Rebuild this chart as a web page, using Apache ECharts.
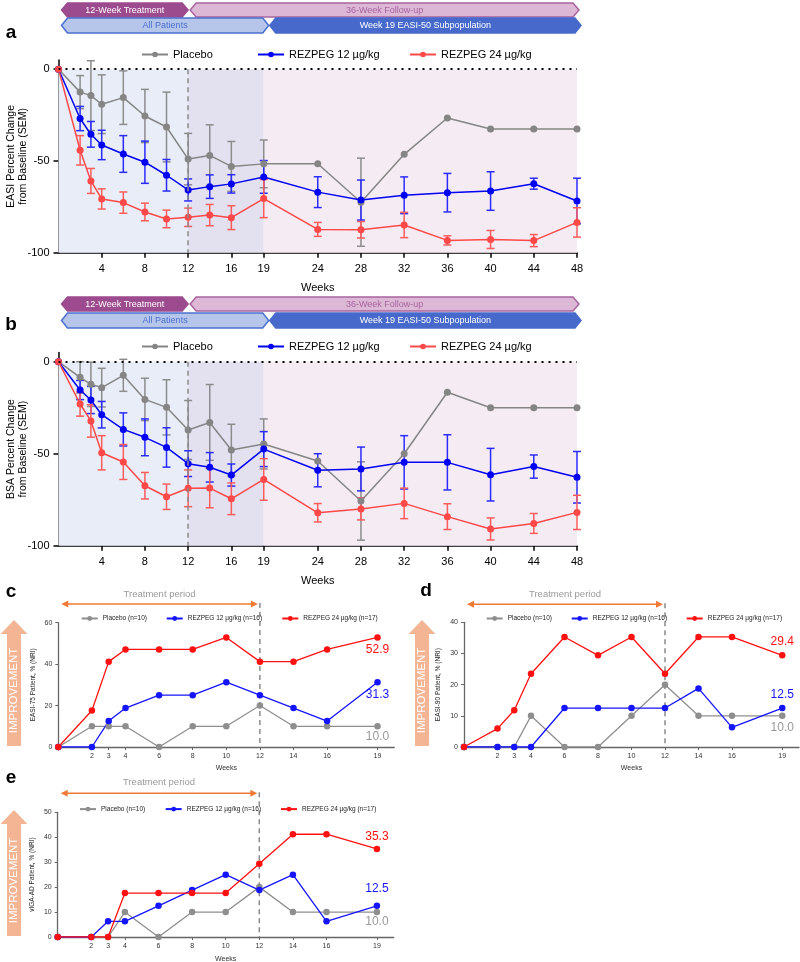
<!DOCTYPE html>
<html><head><meta charset="utf-8">
<script src="https://cdn.jsdelivr.net/npm/echarts@6/dist/echarts.min.js"></script>
<style>html,body{margin:0;padding:0;background:#fff}#c{width:800px;height:962px}</style>
</head><body><div id="c"></div>
<script>
const FONT = "'Liberation Sans', Arial, Helvetica, sans-serif";

// ---------- data ----------
const weeksAB = [0,2,3,4,6,8,10,12,14,16,19,24,28,32,36,40,44,48];
const tickWeeksAB = [4,8,12,16,19,24,28,32,36,40,44,48];
const yTicksAB = [-100,-50,0];
const periodBounds = [0,12,19,48];

const easiPlacebo    = [0,-12.5,-14.4,-19.1,-15.5,-25.5,-31.5,-49,-47,-53,-51.6,-51.5,-72.5,-46.4,-26.6,-32.6,-32.6,-32.6];
const easiPlaceboSem = [0,9,19,16,14.6,14.5,19,14,16.7,13.6,13,0,24,0,0,0,0,0];
const easi12         = [0,-26.9,-35.5,-41.3,-46.2,-50.7,-57.8,-65.8,-64,-62.5,-58.7,-67,-71.3,-68.7,-67.3,-66.4,-62.4,-71.8];
const easi12Sem      = [0,6.6,7,8,10,11.5,8.6,6,6.4,5,8.9,8.4,10.9,10,10.5,10.5,3,12.4];
const easi24         = [0,-44.2,-60.9,-70.7,-72.7,-77.8,-81.6,-80.7,-79.5,-80.9,-70.5,-87.3,-87.5,-84.9,-93.3,-92.8,-93.4,-83.5];
const easi24Sem      = [0,8,6.8,5.5,5.8,4.8,4.8,5,5.8,6.5,10.4,3.8,4.5,6.9,2.5,4.9,3.3,8];

const bsaPlacebo    = [0,-8.5,-12.3,-14.1,-7.4,-20.5,-24.8,-37.1,-33,-48,-44.7,-54,-75.7,-50,-16.6,-25,-25,-25];
const bsaPlaceboSem = [0,8.5,12,10.5,8.7,11.5,15,16,20.6,14,13.6,0,21.3,0,0,0,0,0];
const bsa12         = [0,-15.4,-20.8,-28.8,-36.8,-41.1,-46.6,-55.4,-57.4,-61.6,-47.5,-59,-58.3,-54.7,-54.7,-61.4,-57,-62.8];
const bsa12Sem      = [0,5.2,7.4,7.2,9,10,10.7,7,8,6,9.5,9,11.9,14.5,15,14.3,6.3,14];
const bsa24         = [0,-23,-32.2,-49.5,-54.5,-67.4,-73.4,-68.8,-68.7,-74.5,-64,-82.1,-80,-77,-84.2,-90.9,-87.9,-81.9];
const bsa24Sem      = [0,6.6,8.8,9.3,9.5,7.2,6.9,10,10.7,8.6,11.3,5,6,8.3,7,6,5.4,9.3];

const weeksCDE = [0,2,3,4,6,8,10,12,14,16,19];
const tickWeeksCDE = [2,3,4,6,8,10,12,14,16,19];

const easi75Placebo = [0,10,10,10,0,10,10,20,10,10,10];
const easi75_12     = [0,0,12.5,18.8,25,25,31.3,25,18.8,12.5,31.3];
const easi75_24     = [0,17.6,41.2,47.1,47.1,47.1,52.9,41.2,41.2,47.1,52.9];

const easi90Placebo = [0,0,0,10,0,0,10,20,10,10,10];
const easi90_12     = [0,0,0,0,12.5,12.5,12.5,12.5,18.8,6.3,12.5];
const easi90_24     = [0,5.9,11.8,23.5,35.3,29.4,35.3,23.5,35.3,35.3,29.4];

const vigaPlacebo = [0,0,0,10,0,10,10,20,10,10,10];
const viga12      = [0,0,6.3,6.3,12.5,18.8,25,18.8,25,6.3,12.5];
const viga24      = [0,0,0,17.6,17.6,17.6,17.6,29.4,41.2,41.2,35.3];

const namesAB  = ['Placebo','REZPEG 12 µg/kg','REZPEG 24 µg/kg'];
const namesCDE = ['Placebo (n=10)','REZPEG 12 µg/kg (n=16)','REZPEG 24 µg/kg (n=17)'];

// ---------- styling ----------
const colAB  = ['#858585','#0000f2','#ff4848'];
const errAB  = ['#8c8c8c','#2b2bff','#ff5c5c'];
const colCDE = ['#8e8e8e','#1414ff','#ff1010'];

const chart = echarts.init(document.getElementById('c'), null, {renderer:'canvas'});

function errSeries(name, gi, weeks, means, sems, color) {
  return {
    type:'custom', name, xAxisIndex:gi, yAxisIndex:gi, silent:true, z:3,
    data: weeks.map((w,i)=>[w, means[i], sems[i]]),
    renderItem(params, api){
      const e = api.value(2);
      if(!e) return null;
      const x = api.value(0), y = api.value(1);
      const t = api.coord([x, y+e]), b = api.coord([x, y-e]);
      const hw = 4, st = {stroke:color, lineWidth:1.5, fill:null};
      return {type:'group', children:[
        {type:'line', shape:{x1:t[0],y1:t[1],x2:b[0],y2:b[1]}, style:st},
        {type:'line', shape:{x1:t[0]-hw,y1:t[1],x2:t[0]+hw,y2:t[1]}, style:st},
        {type:'line', shape:{x1:b[0]-hw,y1:b[1],x2:b[0]+hw,y2:b[1]}, style:st}
      ]};
    }
  };
}
function lineSeries(name, gi, weeks, vals, color, size, extra) {
  return Object.assign({
    type:'line', name, xAxisIndex:gi, yAxisIndex:gi,
    data: weeks.map((w,i)=>[w, vals[i]]),
    symbol:'circle', symbolSize:size, showSymbol:true,
    itemStyle:{color}, lineStyle:{color, width:1.5}, z:4
  }, extra||{});
}
function shade(gi) {
  const cols = ['#e9edf7','#e3e0f0','#f5ebf3'];
  return {
    markArea:{silent:true, data: cols.map((c,i)=>[
      {xAxis:periodBounds[i], yAxis:0, itemStyle:{color:c}},
      {xAxis:periodBounds[i+1], yAxis:-100}])},
    markLine:{silent:true, symbol:['none','none'], label:{show:false}, animation:false, data:[
      {yAxis:0, lineStyle:{type:[2,5], color:'#000', width:2}},
      [{coord:[periodBounds[1],0], lineStyle:{type:[5,4], color:'#8a8a8a', width:1.5}},{coord:[periodBounds[1],-100]}]
    ]}
  };
}
function cdeSeries(name, gi, vals, color, lab) {
  const n = weeksCDE.length;
  return {
    type:'line', name, xAxisIndex:gi, yAxisIndex:gi, symbol:'circle', symbolSize:6.5,
    itemStyle:{color}, lineStyle:{color, width:1.3}, z:4,
    data: weeksCDE.map((w,i)=> i===n-1 ? {value:[w, vals[i]], label:{show:true, position:lab.pos, distance:lab.dist,
        color:lab.color||color, fontSize:12, fontFamily:FONT, formatter:p=>p.value[1].toFixed(1)}} : [w, vals[i]])
  };
}

// axes
function xAB(gi){ return {type:'value', gridIndex:gi, min:0, max:48, name:'Weeks', nameLocation:'middle', nameGap:30,
  nameTextStyle:{fontSize:11,color:'#000',fontFamily:FONT},
  axisLine:{onZero:false, lineStyle:{color:'#000', width:1.5}},
  axisTick:{customValues:tickWeeksAB, length:5, lineStyle:{color:'#000', width:1.5}},
  axisLabel:{customValues:tickWeeksAB, fontSize:11, color:'#000', margin:11, fontFamily:FONT},
  splitLine:{show:false}}; }
function yAB(gi, name){ return {type:'value', gridIndex:gi, min:-100, max:5, name, nameLocation:'middle', nameGap:29, nameRotate:90,
  nameMoveOverlap:false,
  nameTextStyle:{fontSize:10.5, lineHeight:12, color:'#000', fontFamily:FONT},
  axisLine:{onZero:false, lineStyle:{color:'#000', width:1.5}},
  axisTick:{customValues:yTicksAB, length:5, lineStyle:{color:'#000', width:1.5}},
  axisLabel:{customValues:yTicksAB, fontSize:11, color:'#000', margin:9, fontFamily:FONT},
  splitLine:{show:false}}; }
function xCDE(gi, gap){ return {type:'value', gridIndex:gi, min:0, max:20, name:'Weeks', nameLocation:'middle', nameGap:gap,
  nameTextStyle:{fontSize:7,color:'#333',fontFamily:FONT},
  axisLine:{onZero:false, lineStyle:{color:'#666', width:1.3}},
  axisTick:{customValues:tickWeeksCDE, length:3, lineStyle:{color:'#666', width:1}},
  axisLabel:{customValues:tickWeeksCDE, fontSize:7, color:'#333', margin:6, fontFamily:FONT},
  splitLine:{show:false}}; }
function yCDE(gi, max, interval, name){ return {type:'value', gridIndex:gi, min:0, max, interval, name, nameLocation:'middle', nameGap:22, nameRotate:90,
  nameTextStyle:{fontSize:6.5,color:'#222',fontFamily:FONT},
  axisLine:{onZero:false, lineStyle:{color:'#666', width:1.3}},
  axisTick:{length:3, lineStyle:{color:'#666', width:1}},
  axisLabel:{fontSize:7, color:'#333', margin:6, fontFamily:FONT},
  splitLine:{show:false}}; }

const legCommonAB = {padding:0, itemWidth:26, itemHeight:7, selectedMode:false, textStyle:{fontSize:11,color:'#000',fontFamily:FONT}};
const legCommonC = {padding:0, itemWidth:16, itemHeight:6, selectedMode:false, textStyle:{fontSize:6.5,color:'#222',fontFamily:FONT}};
function legs(names, lefts, top, common){ return names.map((n,i)=>Object.assign({data:[n], left:lefts[i], top}, common)); }
const G = (o)=>Object.assign({containLabel:false, outerBoundsMode:'none'}, o);

const option = {
  animation:false,
  grid:[
    G({left:58.5, top:60, width:518.5, height:192.7}),
    G({left:58.5, top:352.5, width:518.5, height:193.2}),
    G({left:58.3, top:622.7, width:336, height:124.3}),
    G({left:464, top:622.3, width:335, height:124.7}),
    G({left:57.7, top:812.3, width:336, height:124.7})
  ],
  xAxis:[xAB(0), xAB(1), xCDE(2,17.5), xCDE(3,17.5), xCDE(4,18.5)],
  yAxis:[
    yAB(0,'EASI Percent Change\nfrom Baseline (SEM)'),
    yAB(1,'BSA Percent Change\nfrom Baseline (SEM)'),
    yCDE(2,60,20,'EASI-75 Patient, % (NRI)'),
    yCDE(3,40,10,'EASI-90 Patient, % (NRI)'),
    yCDE(4,50,10,'vIGA-AD Patient, % (NRI)')
  ],
  legend:[].concat(
    legs(namesAB,[141,257,409],49,legCommonAB),
    legs(namesAB,[141,257,409],341,legCommonAB),
    legs(namesCDE,[80.7,165.7,281.3],615,legCommonC),
    legs(namesCDE,[485.7,570.7,685.7],615,legCommonC),
    legs(namesCDE,[79,164.7,280],805.6,legCommonC)
  ),
  series:[
    lineSeries(namesAB[0],0,weeksAB,easiPlacebo,colAB[0],7,shade(0)),
    errSeries('errA0',0,weeksAB,easiPlacebo,easiPlaceboSem,errAB[0]),
    lineSeries(namesAB[1],0,weeksAB,easi12,colAB[1],7),
    errSeries('errA1',0,weeksAB,easi12,easi12Sem,errAB[1]),
    lineSeries(namesAB[2],0,weeksAB,easi24,colAB[2],7),
    errSeries('errA2',0,weeksAB,easi24,easi24Sem,errAB[2]),

    lineSeries(namesAB[0],1,weeksAB,bsaPlacebo,colAB[0],7,shade(1)),
    errSeries('errB0',1,weeksAB,bsaPlacebo,bsaPlaceboSem,errAB[0]),
    lineSeries(namesAB[1],1,weeksAB,bsa12,colAB[1],7),
    errSeries('errB1',1,weeksAB,bsa12,bsa12Sem,errAB[1]),
    lineSeries(namesAB[2],1,weeksAB,bsa24,colAB[2],7),
    errSeries('errB2',1,weeksAB,bsa24,bsa24Sem,errAB[2]),

    cdeSeries(namesCDE[0],2,easi75Placebo,colCDE[0],{pos:'bottom',dist:1,color:'#999'}),
    cdeSeries(namesCDE[1],2,easi75_12,colCDE[1],{pos:'bottom',dist:3}),
    cdeSeries(namesCDE[2],2,easi75_24,colCDE[2],{pos:'bottom',dist:3}),

    cdeSeries(namesCDE[0],3,easi90Placebo,colCDE[0],{pos:'bottom',dist:3,color:'#999'}),
    cdeSeries(namesCDE[1],3,easi90_12,colCDE[1],{pos:'top',dist:4}),
    cdeSeries(namesCDE[2],3,easi90_24,colCDE[2],{pos:'top',dist:4}),

    cdeSeries(namesCDE[0],4,vigaPlacebo,colCDE[0],{pos:'bottom',dist:0,color:'#999'}),
    cdeSeries(namesCDE[1],4,viga12,colCDE[1],{pos:'top',dist:8}),
    cdeSeries(namesCDE[2],4,viga24,colCDE[2],{pos:'top',dist:3})
  ]
};
chart.setOption(option);

// ---------- annotations positioned from the axes ----------
const P = (gi, x, y) => chart.convertToPixel({gridIndex:gi}, [x, y]);
const g = [];
function txt(x, y, text, font, fill, rot){
  g.push({type:'text', x, y, rotation:rot||0, silent:true, z:20,
    style:{text, font, fill, align:'center', verticalAlign:'middle', textAlign:'center', textVerticalAlign:'middle'}});
}
function banner(x1, x2, y, h, fill, stroke, text, tcol){
  const t = 6;
  g.push({type:'polygon', silent:true, z:10, shape:{points:[[x1,y+h/2],[x1+t,y],[x2-t,y],[x2,y+h/2],[x2-t,y+h],[x1+t,y+h]]},
    style:{fill, stroke, lineWidth:1.5}});
  txt((x1+x2)/2, y+h/2+0.5, text, '9px '+FONT, tcol);
}
[[0,3,18],[1,297,313]].forEach(([gi,y1,y2])=>{
  const x0 = P(gi,periodBounds[0],0)[0], x12 = P(gi,periodBounds[1],0)[0], x19 = P(gi,periodBounds[2],0)[0], x48 = P(gi,periodBounds[3],0)[0];
  banner(x0+3, x12, y1, 14, '#9d4b8f', '#9d4b8f', '12-Week Treatment', '#fff');
  banner(x12+2, x48+2, y1, 14, '#dcb7d6', '#a8649e', '36-Week Follow-up', '#a9639f');
  banner(x0+3, x19+5, y2, 15, '#b6c5ea', '#4a70d0', 'All Patients', '#4a70d0');
  banner(x19+6, x48+4, y2, 15, '#4769cb', '#4769cb', 'Week 19 EASI-50 Subpopulation', '#fff');
});

// panel letters
txt(11,33,'a','bold 19px '+FONT,'#000');
txt(11,325,'b','bold 19px '+FONT,'#000');
txt(11,592,'c','bold 19px '+FONT,'#000');
txt(426,591,'d','bold 19px '+FONT,'#000');
txt(11,778,'e','bold 19px '+FONT,'#000');

// treatment period arrows + dashed week-12 lines + improvement arrows
const ORANGE = '#f07a35', PEACH = '#f4b595';
[[2,604,594,14,620,634],[3,604.3,594,422,620,634],[4,793.3,782.7,14,810,824]].forEach(([gi,ay,ty,ix,itop,ibase])=>{
  const xs = P(gi,0,0)[0]+3, xe = P(gi,12,0)[0]-2, x12 = P(gi,12,0)[0];
  const yb = P(gi,0,0)[1];
  g.push({type:'line', silent:true, shape:{x1:xs+4,y1:ay,x2:xe-4,y2:ay}, style:{stroke:ORANGE, lineWidth:1.5}});
  g.push({type:'polygon', silent:true, shape:{points:[[xs,ay],[xs+7,ay-3.5],[xs+7,ay+3.5]]}, style:{fill:ORANGE}});
  g.push({type:'polygon', silent:true, shape:{points:[[xe,ay],[xe-7,ay-3.5],[xe-7,ay+3.5]]}, style:{fill:ORANGE}});
  txt((xs+xe)/2, ty, 'Treatment period', '9.5px '+FONT, '#9a9a9a');
  g.push({type:'line', silent:true, z:1, shape:{x1:x12,y1:ay-1,x2:x12,y2:yb}, style:{stroke:'#8a8a8a', lineWidth:1.5, lineDash:[5,4]}});
  g.push({type:'polygon', silent:true, shape:{points:[[ix,itop],[ix+13.5,ibase],[ix+7,ibase],[ix+7,yb-1],[ix-7,yb-1],[ix-7,ibase],[ix-13.5,ibase]]}, style:{fill:PEACH}});
  txt(ix, (ibase+yb)/2, 'IMPROVEMENT', '11.5px '+FONT, '#fff', Math.PI/2);
});

chart.setOption({graphic:{elements:g}});
</script></body></html>
